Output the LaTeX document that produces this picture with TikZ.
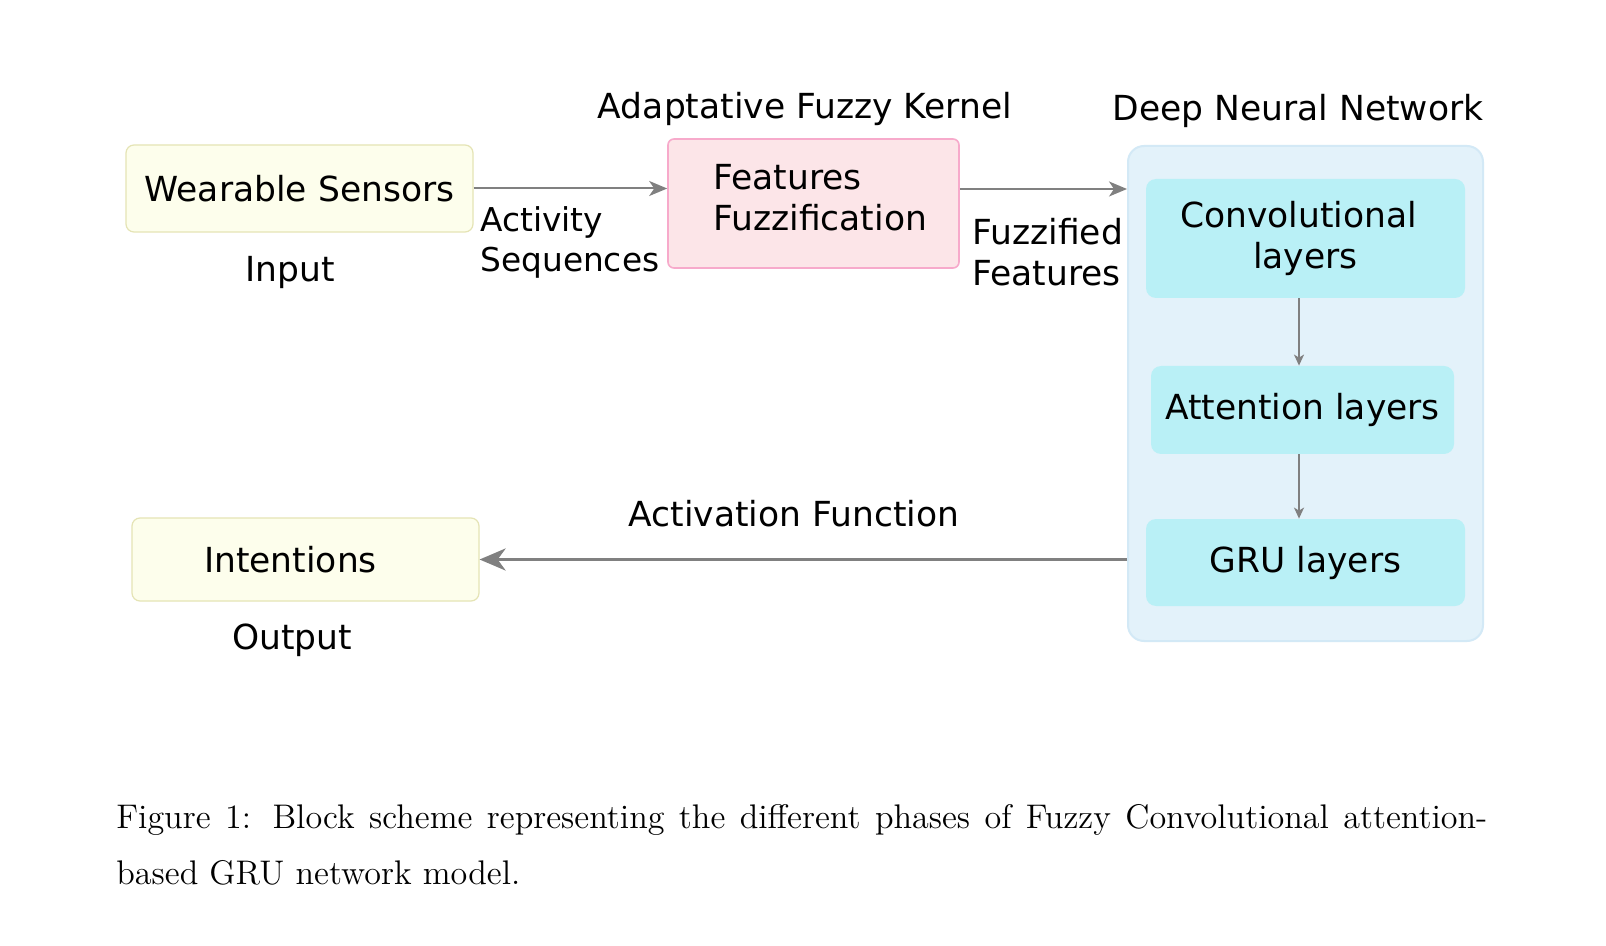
\documentclass[tikz,border=0pt]{standalone}
\usepackage{fontspec}
\usepackage{graphicx}
\usetikzlibrary{arrows.meta}
\newfontfamily\dvsans{DejaVu Sans}
\definecolor{yfill}{HTML}{FDFEEC}
\definecolor{ydraw}{HTML}{E5E4B5}
\definecolor{pfill}{HTML}{FCE5E8}
\definecolor{pdraw}{HTML}{F7AACB}
\definecolor{cfill}{HTML}{E3F2FA}
\definecolor{cdraw}{HTML}{D3E9F6}
\definecolor{lfill}{HTML}{B9F0F6}
\definecolor{arrgray}{HTML}{808080}
\tikzset{
  lbl/.style={font=\dvsans\fontsize{17.25}{20.75}\selectfont, inner sep=0pt, text=black},
  smalllbl/.style={lbl, font=\dvsans\fontsize{16.4}{20}\selectfont},
  ybox/.style={lbl, draw=ydraw, fill=yfill, line width=0.6pt, rounded corners=4pt},
  pbox/.style={draw=pdraw, fill=pfill, line width=0.8pt, rounded corners=3pt, inner sep=0pt},
  container/.style={draw=cdraw, fill=cfill, line width=1pt, rounded corners=8pt},
  layerbox/.style={lbl, fill=lfill, rounded corners=5pt, align=center},
  arr/.style={draw=arrgray, line width=1pt, -{Stealth[length=9pt, width=7.5pt, inset=2.5pt]}},
  thinarr/.style={draw=arrgray, line width=0.8pt, -{Stealth[length=5.5pt, width=5pt, inset=1.5pt]}},
  thickarr/.style={draw=arrgray, line width=1.7pt, -{Stealth[length=13pt, width=11pt, inset=4pt]}},
  captxt/.style={inner sep=0pt, anchor=base west, font=\fontsize{12}{14}\selectfont}
}
\begin{document}
\begin{tikzpicture}[x=0.5pt, y=-0.5pt]
\useasboundingbox (0,0) rectangle (1606,946);
\fill[white] (0,0) rectangle (1606,946);

% container
\node[container, minimum width=177.5pt, minimum height=247.5pt, inner sep=0pt] (dnn) at (1305.5,393.5) {};

% boxes
\node[ybox, minimum width=173.5pt, minimum height=43.5pt] (ws) at (299.5,188.5) {Wearable Sensors};
\node[pbox, minimum width=145.5pt, minimum height=64.5pt] (ff) at (813.5,203.5) {};
\node[lbl, anchor=base west, align=left] (fftext) at (713,231) {Features\\Fuzzification};
\node[layerbox, minimum width=159.5pt, minimum height=59.5pt] (conv) at (1305.5,238.5) {Convolutional\hspace{7pt}\null\\layers};
\node[layerbox, minimum width=151.5pt, minimum height=44pt] (att) at (1302.5,410) {Attention layers};
\node[layerbox, minimum width=159.5pt, minimum height=43.5pt] (gru) at (1305.5,562.5) {GRU layers};
\node[ybox, minimum width=173.5pt, minimum height=41.5pt] (int) at (305.5,559.5) {Intentions\hspace{15pt}\null};

% labels
\node[lbl, anchor=base] (inlbl) at (290,282) {Input};
\node[lbl, anchor=base] (outlbl) at (292,649) {Output};
\node[smalllbl, anchor=base west, align=left] (actseq) at (480,272) {Activity\\Sequences};
\node[lbl, anchor=base west, align=left] (fuzfeat) at (972,286) {Fuzzified\\Features};
\node[lbl, anchor=base] (akernel) at (805,119) {Adaptative Fuzzy Kernel};
\node[lbl, anchor=base] (dnnlbl) at (1298,121) {Deep Neural Network};
\node[lbl, anchor=base] (actfn) at (794,526) {Activation Function};

% connectors
\draw[arr] (ws.east) -- (ws.east -| ff.west);
\draw[arr] ([yshift=7.25pt]ff.east) -- ([yshift=7.25pt]ff.east -| dnn.west);
\draw[thinarr] ([xshift=-3.25pt]conv.south) -- ([xshift=-3.25pt]conv.south |- att.north);
\draw[thinarr] ([xshift=-1.75pt]att.south) -- ([xshift=-1.75pt]att.south |- gru.north);
\draw[thickarr] (int.east -| dnn.west) -- (int.east);

% caption
\node[captxt] (cap1) at (116,828) {\scalebox{1.423}{\makebox[481.7pt][s]{Figure 1: Block scheme representing the different phases of Fuzzy Convolutional attention-}}};
\node[captxt] (cap2) at (116,884) {\scalebox{1.423}{based GRU network model.}};
\end{tikzpicture}
\end{document}
